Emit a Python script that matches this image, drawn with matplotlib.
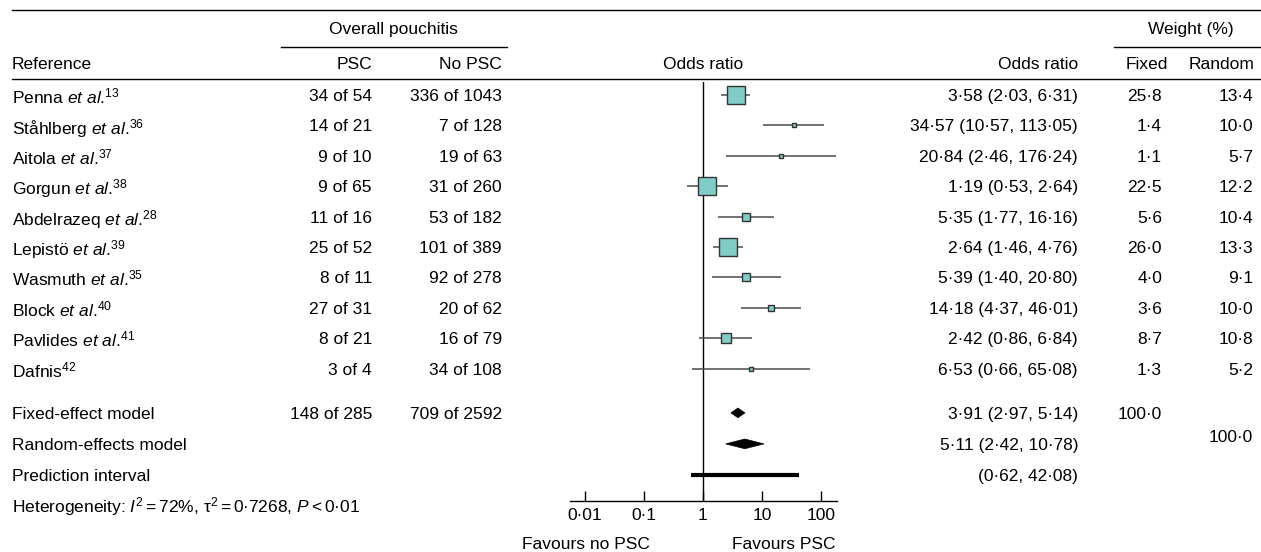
import matplotlib
matplotlib.use("Agg")
import matplotlib.pyplot as plt
from matplotlib.lines import Line2D
from matplotlib.patches import Polygon
from matplotlib import transforms

# ---- data ----
studies = ["Penna", "Ståhlberg", "Aitola", "Gorgun", "Abdelrazeq",
           "Lepistö", "Wasmuth", "Block", "Pavlides", "Dafnis"]
ref_nums = ["13", "36", "37", "38", "28", "39", "35", "40", "41", "42"]
has_et_al = [True, True, True, True, True, True, True, True, True, False]
psc_events = [34, 14, 9, 9, 11, 25, 8, 27, 8, 3]
psc_total = [54, 21, 10, 65, 16, 52, 11, 31, 21, 4]
nopsc_events = [336, 7, 19, 31, 53, 101, 92, 20, 16, 34]
nopsc_total = [1043, 128, 63, 260, 182, 389, 278, 62, 79, 108]
or_est = [3.58, 34.57, 20.84, 1.19, 5.35, 2.64, 5.39, 14.18, 2.42, 6.53]
or_low = [2.03, 10.57, 2.46, 0.53, 1.77, 1.46, 1.40, 4.37, 0.86, 0.66]
or_high = [6.31, 113.05, 176.24, 2.64, 16.16, 4.76, 20.80, 46.01, 6.84, 65.08]
weight_fixed = [25.8, 1.4, 1.1, 22.5, 5.6, 26.0, 4.0, 3.6, 8.7, 1.3]
weight_random = [13.4, 10.0, 5.7, 12.2, 10.4, 13.3, 9.1, 10.0, 10.8, 5.2]

fixed_model = [3.91, 2.97, 5.14]
random_model = [5.11, 2.42, 10.78]
prediction_interval = [0.62, 42.08]
fixed_counts = ["148 of 285", "709 of 2592"]
het_text = r"Heterogeneity: $I^2 = 72\%$, τ$^2 =$0·7268, $P <$0·01"

x_ticks = [0.01, 0.1, 1, 10, 100]
x_tick_labels = ["0·01", "0·1", "1", "10", "100"]


def fmt(v, nd=2):
    return f"{v:.{nd}f}".replace(".", "·")


plt.rcParams["font.family"] = ["Liberation Sans", "DejaVu Sans"]
plt.rcParams["mathtext.fontset"] = "custom"
plt.rcParams["mathtext.rm"] = "Liberation Sans"
plt.rcParams["mathtext.it"] = "Liberation Sans:italic"
plt.rcParams["mathtext.bf"] = "Liberation Sans:bold"

W, H = 1261, 552
FS = 12.5
fig = plt.figure(figsize=(W / 100, H / 100), dpi=100)


def fx(px):
    return px / W


def fy(py):
    return 1 - py / H


# forest axes: x=1 sits at 703 px, one decade is ~59 px
ax = fig.add_axes([fx(570), fy(501), fx(837) - fx(570), fy(82) - fy(501)])
ax.set_xscale("log")
ax.set_xlim(10 ** -2.254, 10 ** 2.271)
ax.set_ylim(13.36, -0.43)
for side in ["top", "left", "right"]:
    ax.spines[side].set_visible(False)
ax.spines["bottom"].set_linewidth(1.0)
ax.set_yticks([])
ax.set_xticks(x_ticks)
ax.set_xticklabels(x_tick_labels, fontsize=FS)
ax.xaxis.set_minor_locator(matplotlib.ticker.NullLocator())
ax.tick_params(axis="x", direction="in", length=7.5, width=1.0, pad=5)
ax.patch.set_alpha(0)

rows = list(range(len(studies)))
row_fixed, row_random, row_pred, row_het = 10.46, 11.48, 12.5, 13.45

ax.axvline(1, color="black", lw=1.0, zorder=1)

for r, est, lo, hi, w in zip(rows, or_est, or_low, or_high, weight_fixed):
    ax.plot([lo, hi], [r, r], color="#4a4a4a", lw=1.1, solid_capstyle="butt", zorder=2)
    ax.plot(est, r, marker="s", markersize=2.6 * w ** 0.5,
            markerfacecolor="#7fcdc6", markeredgecolor="#333333",
            markeredgewidth=1.0, zorder=3)

for row, (est, lo, hi) in [(row_fixed, fixed_model), (row_random, random_model)]:
    h = 0.16
    ax.add_patch(Polygon([(lo, row), (est, row - h), (hi, row), (est, row + h)],
                         closed=True, facecolor="black", edgecolor="black",
                         lw=0.5, zorder=3))

ax.plot(prediction_interval, [row_pred, row_pred], color="black", lw=3.0,
        solid_capstyle="butt", zorder=3)

# text columns: x in figure pixels, y in forest rows
tr = transforms.blended_transform_factory(fig.transFigure, ax.transData)


def put(px, row, s, ha="left"):
    fig.text(fx(px), row, s, transform=tr, ha=ha, va="center_baseline", fontsize=FS)


for r in rows:
    if has_et_al[r]:
        name = studies[r] + r" $\mathit{et\ al}$.$^{" + ref_nums[r] + "}$"
    else:
        name = studies[r] + r"$^{" + ref_nums[r] + "}$"
    put(12, r, name)
    put(372, r, f"{psc_events[r]} of {psc_total[r]}", ha="right")
    put(502, r, f"{nopsc_events[r]} of {nopsc_total[r]}", ha="right")
    put(1078, r, f"{fmt(or_est[r])} ({fmt(or_low[r])}, {fmt(or_high[r])})", ha="right")
    put(1162, r, fmt(weight_fixed[r], 1), ha="right")
    put(1253, r, fmt(weight_random[r], 1), ha="right")

put(12, row_fixed, "Fixed-effect model")
put(372, row_fixed, fixed_counts[0], ha="right")
put(502, row_fixed, fixed_counts[1], ha="right")
put(1078, row_fixed, f"{fmt(fixed_model[0])} ({fmt(fixed_model[1])}, {fmt(fixed_model[2])})", ha="right")
put(1162, row_fixed, "100·0", ha="right")

put(12, row_random, "Random-effects model")
put(1078, row_random, f"{fmt(random_model[0])} ({fmt(random_model[1])}, {fmt(random_model[2])})", ha="right")
put(1253, row_random - 0.25, "100·0", ha="right")

put(12, row_pred, "Prediction interval")
put(1078, row_pred, f"({fmt(prediction_interval[0])}, {fmt(prediction_interval[1])})", ha="right")

put(12, row_het, het_text)

# header
def hline(y, x0, x1, lw=1.0):
    fig.add_artist(Line2D([fx(x0), fx(x1)], [fy(y), fy(y)], color="black", lw=lw))


hline(10, 12, 1261)
hline(47, 281, 507)
hline(47, 1114, 1261)
hline(79, 12, 1261)


def head(px, py, s, ha="left"):
    fig.text(fx(px), fy(py), s, ha=ha, va="center_baseline", fontsize=FS)


head(393, 28, "Overall pouchitis", ha="center")
head(1191, 28, "Weight (%)", ha="center")
head(12, 63, "Reference")
head(372, 63, "PSC", ha="right")
head(502, 63, "No PSC", ha="right")
head(703, 63, "Odds ratio", ha="center")
head(1078, 63, "Odds ratio", ha="right")
head(1168, 63, "Fixed", ha="right")
head(1255, 63, "Random", ha="right")

head(586, 543, "Favours no PSC", ha="center")
head(784, 543, "Favours PSC", ha="center")

fig.savefig("out.png", dpi=100, facecolor="white")
